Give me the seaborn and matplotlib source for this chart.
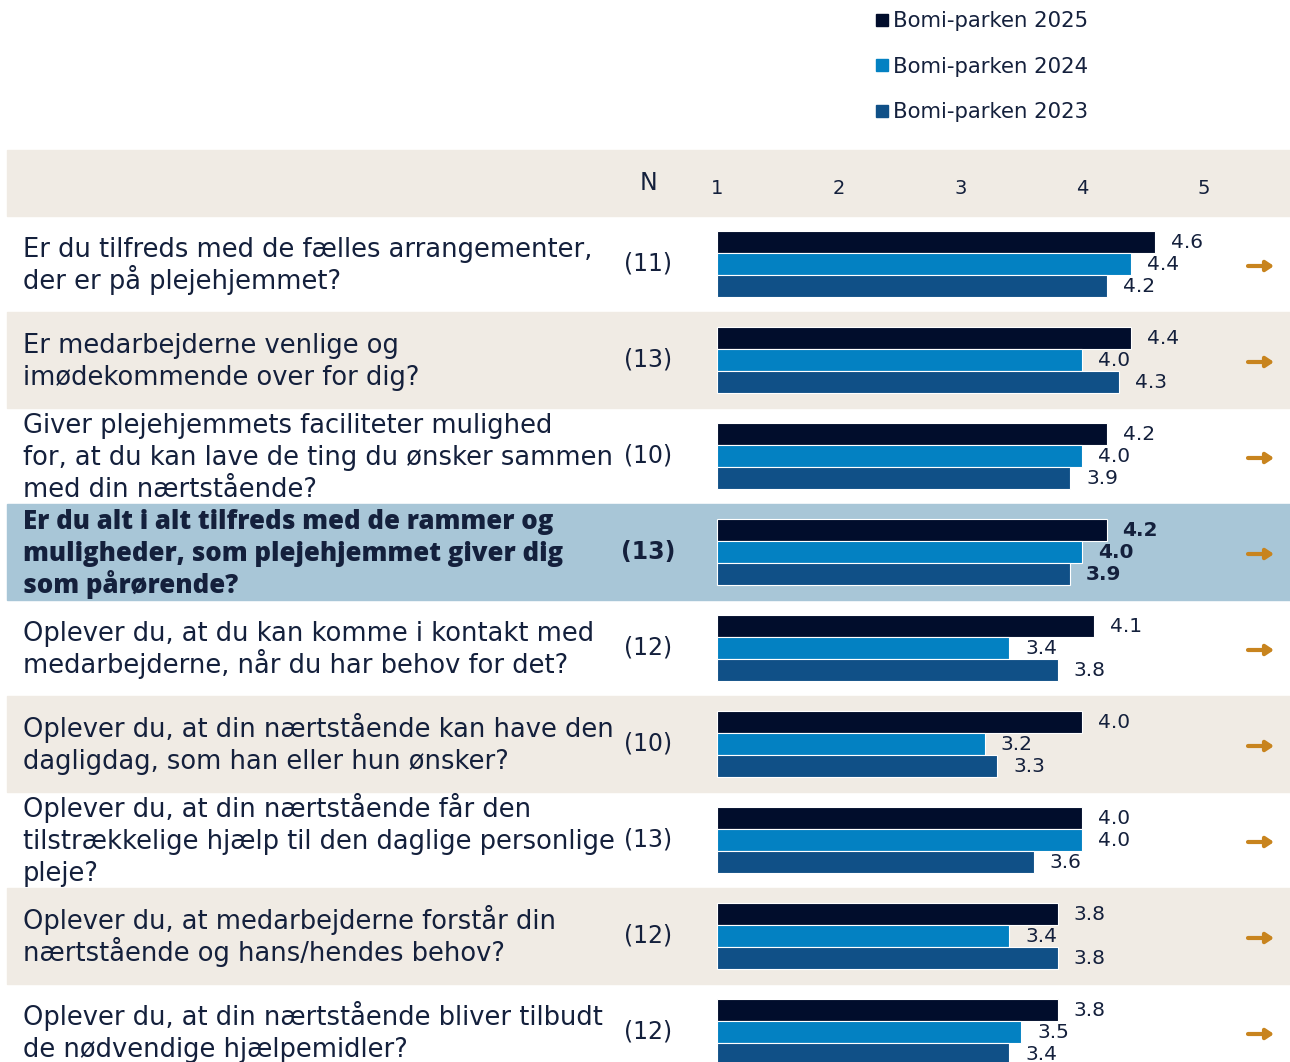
import pandas as pd
import matplotlib.pyplot as plt
import seaborn as sns
from matplotlib.lines import Line2D

# --- data ---
questions = [
    "Er du tilfreds med de fælles arrangementer,\nder er på plejehjemmet?",
    "Er medarbejderne venlige og\nimødekommende over for dig?",
    "Giver plejehjemmets faciliteter mulighed\nfor, at du kan lave de ting du ønsker sammen\nmed din nærtstående?",
    "Er du alt i alt tilfreds med de rammer og\nmuligheder, som plejehjemmet giver dig\nsom pårørende?",
    "Oplever du, at du kan komme i kontakt med\nmedarbejderne, når du har behov for det?",
    "Oplever du, at din nærtstående kan have den\ndagligdag, som han eller hun ønsker?",
    "Oplever du, at din nærtstående får den\ntilstrækkelige hjælp til den daglige personlige\npleje?",
    "Oplever du, at medarbejderne forstår din\nnærtstående og hans/hendes behov?",
    "Oplever du, at din nærtstående bliver tilbudt\nde nødvendige hjælpemidler?",
]
n_resp = [11, 13, 10, 13, 12, 10, 13, 12, 12]
v2025 = [4.6, 4.4, 4.2, 4.2, 4.1, 4.0, 4.0, 3.8, 3.8]
v2024 = [4.4, 4.0, 4.0, 4.0, 3.4, 3.2, 4.0, 3.4, 3.5]
v2023 = [4.2, 4.3, 3.9, 3.9, 3.8, 3.3, 3.6, 3.8, 3.4]
series = ["Bomi-parken 2025", "Bomi-parken 2024", "Bomi-parken 2023"]
scale_ticks = [1, 2, 3, 4, 5]
highlight = 3  # the summary question

colors = ["#010d2c", "#0381c2", "#105087"]
txt_col = "#14203c"
beige = "#f0ebe4"
blue_bg = "#a8c6d7"
arrow_col = "#c8841e"

rows = []
for vals, s in zip([v2025, v2024, v2023], series):
    for q, v in zip(questions, vals):
        rows.append({"question": q, "series": s, "value": v})
df = pd.DataFrame(rows)
df["bar"] = df["value"] - 1  # bars start at 1 on the scale

# --- layout: one axes over the whole figure, x in scale units ---
W, H = 1290, 1062
x1_px, unit_px = 717, 121.75
row0_px, row_px = 264, 96
line_px = 32


def px2x(px):
    return 1 + (px - x1_px) / unit_px


def py2y(py):
    return (py - row0_px) / row_px


plt.rcParams["font.family"] = ["DejaVu Sans"]
fig = plt.figure(figsize=(W / 100, H / 100), dpi=100)
ax = fig.add_axes([0, 0, 1, 1])

sns.barplot(data=df, x="bar", y="question", hue="series", order=questions,
            hue_order=series, palette=colors, saturation=1, orient="h",
            width=0.6875, left=1, errorbar=None, edgecolor="white",
            linewidth=0.8, legend=False, ax=ax, zorder=3)

ax.set_xlim(px2x(0), px2x(W))
ax.set_ylim(py2y(H), py2y(0))
ax.axis("off")

# row backgrounds
x0f = 7 / W
ax.axhspan(py2y(150), py2y(216), xmin=x0f, xmax=1, color=beige, zorder=0)
for i in range(len(questions)):
    if i == highlight:
        ax.axhspan(i - 0.5, i + 0.5, xmin=x0f, xmax=1, color=blue_bg, zorder=0)
    elif i % 2 == 1:
        ax.axhspan(i - 0.5, i + 0.5, xmin=x0f, xmax=1, color=beige, zorder=0)

# header
ax.text(px2x(648), py2y(183), "N", ha="center", va="center", fontsize=17,
        color=txt_col)
for t in scale_ticks:
    ax.text(t, py2y(188), str(t), ha="center", va="center", fontsize=14,
            color=txt_col)

# question text, N, value labels, arrows
offs = [-22 / row_px, 0, 22 / row_px]
for i, q in enumerate(questions):
    bold = i == highlight
    lines = q.split("\n")
    k = len(lines)
    for j, line in enumerate(lines):
        dy = ((j - (k - 1) / 2) * line_px + 9) / row_px
        if bold:
            ax.text(px2x(23), i + dy, line, ha="left", va="baseline",
                    fontsize=18.5, color=txt_col, weight=800,
                    family="Open Sans")
        else:
            ax.text(px2x(23), i + dy, line, ha="left", va="baseline",
                    fontsize=18.5, color=txt_col)
    ax.text(px2x(648), i, f"({n_resp[i]})", ha="center", va="center",
            fontsize=17, color=txt_col, weight="bold" if bold else "normal")
    for vals, o in zip([v2025, v2024, v2023], offs):
        v = vals[i]
        ax.text(v + 16 / unit_px, i + o, f"{v:.1f}", ha="left", va="center",
                fontsize=14.5, color=txt_col,
                weight="bold" if bold else "normal")
    ax.annotate("", xy=(px2x(1274), i + 2 / row_px),
                xytext=(px2x(1248), i + 2 / row_px),
                arrowprops=dict(arrowstyle="-|>,head_length=0.45,head_width=0.3",
                                color=arrow_col, lw=3, shrinkA=0, shrinkB=0))

handles = [Line2D([], [], marker="s", linestyle="", color=c, markersize=9)
           for c in colors]
ax.legend(handles, series, loc="upper left",
          bbox_to_anchor=(855 / W, 1 + 8 / H), frameon=False, fontsize=15.3,
          labelspacing=1.2, handletextpad=0.2, handlelength=0.7,
          labelcolor=txt_col)

plt.savefig("out.png", dpi=100)
